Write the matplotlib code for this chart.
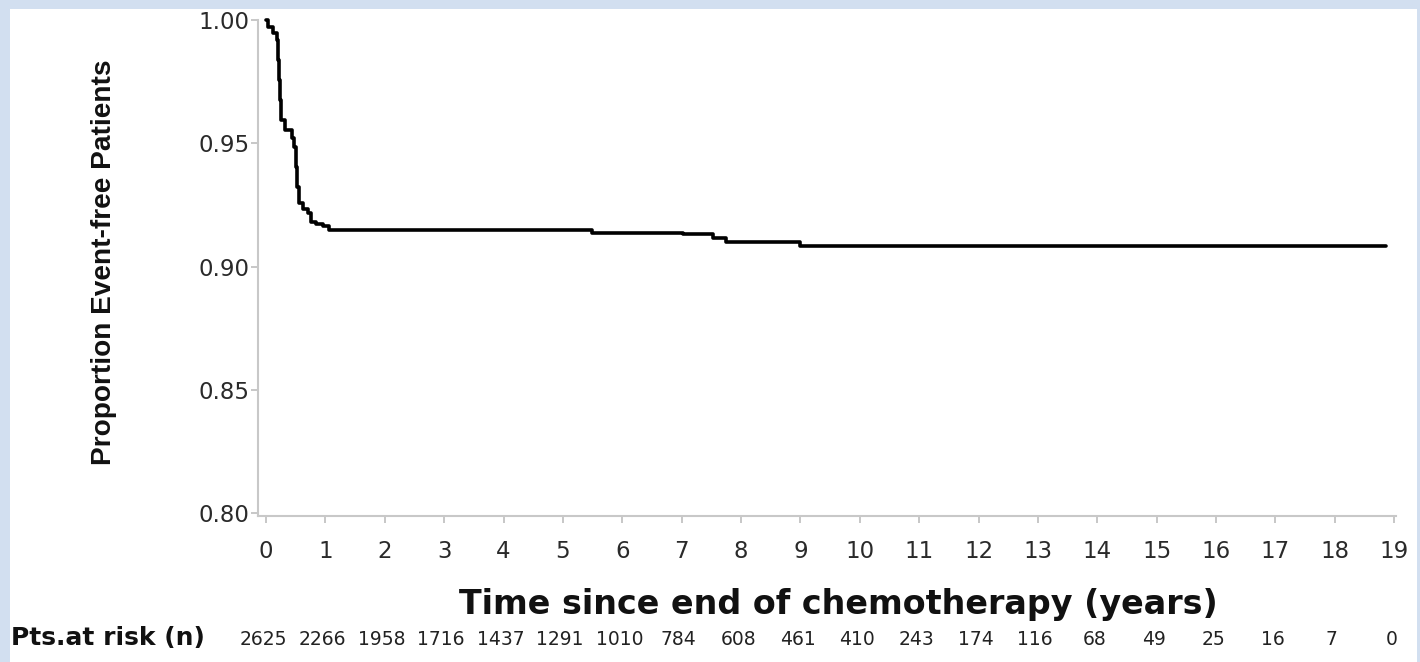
import matplotlib
matplotlib.use('Agg')
import matplotlib.pyplot as plt
from matplotlib.patches import Rectangle
from matplotlib.transforms import blended_transform_factory

# Kaplan-Meier estimate (years, proportion event-free)
times = [0.0, 0.04, 0.12, 0.18, 0.20, 0.22, 0.24, 0.26, 0.32, 0.43, 0.47, 0.50,
         0.53, 0.56, 0.63, 0.71, 0.76, 0.85, 0.96, 1.06, 5.49, 7.02, 7.53, 7.74,
         8.99, 18.87]
surv = [1.0, 0.9973, 0.9946, 0.9919, 0.9838, 0.9757, 0.9675, 0.9594, 0.9554,
        0.952, 0.9486, 0.9405, 0.9324, 0.9256, 0.9232, 0.9216, 0.9182, 0.9171,
        0.9164, 0.9150, 0.9138, 0.9131, 0.9117, 0.9101, 0.9083, 0.9083]

x_ticks = list(range(20))
y_ticks = [0.80, 0.85, 0.90, 0.95, 1.00]
at_risk = [2625, 2266, 1958, 1716, 1437, 1291, 1010, 784, 608, 461, 410, 243,
           174, 116, 68, 49, 25, 16, 7, 0]

W, H = 1420, 662
fig = plt.figure(figsize=(W / 100, H / 100), dpi=100)
fig.patch.set_facecolor('#d2dff0')
fig.add_artist(Rectangle((10 / W, 0), (1417 - 10) / W, 1 - 9 / H,
                         transform=fig.transFigure, facecolor='white',
                         edgecolor='none', zorder=0))

ax = fig.add_axes([258 / W, 1 - 516 / H, (1396 - 258) / W, (516 - 20) / H])
ax.set_facecolor('none')
ax.step(times, surv, where='post', color='black', lw=2.6, clip_on=False,
        solid_joinstyle='round', solid_capstyle='round')

ax.set_xlim(-0.135, 19.03)
ax.set_ylim(0.7988, 1.0)
ax.set_xticks(x_ticks)
ax.set_yticks(y_ticks)
ax.set_yticklabels([f'{v:.2f}' for v in y_ticks])

for s in ['top', 'right']:
    ax.spines[s].set_visible(False)
for s in ['left', 'bottom']:
    ax.spines[s].set_color('#c8c8c8')
    ax.spines[s].set_linewidth(1.5)

ax.tick_params(axis='both', colors='#bdbdbd', length=5, width=1.2,
               labelcolor='#2a2a2a', labelsize=16.5)
ax.tick_params(axis='x', pad=12)
ax.tick_params(axis='y', pad=1)

fig.text(104 / W, 1 - 262 / H, 'Proportion Event-free Patients', rotation=90,
         ha='center', va='center', fontsize=20.2, fontweight='bold',
         family=['Liberation Sans', 'DejaVu Sans'], color='#111111')

fig.text(838 / W, 48 / H, 'Time since end of chemotherapy (years)',
         ha='center', va='baseline', fontsize=24, fontweight='bold',
         family='DejaVu Sans', color='#111111')

fig.text(11 / W, 17 / H, 'Pts.at risk (n)', ha='left', va='baseline',
         fontsize=18, fontweight='bold', family='DejaVu Sans', color='#111111')

tr = blended_transform_factory(ax.transData, fig.transFigure)
for x, n in zip(x_ticks, at_risk):
    ax.text(x - 0.05, 17 / H, str(n), transform=tr, ha='center',
            va='baseline', fontsize=13.5, color='#222222', clip_on=False)

fig.savefig('out.png', dpi=100)
